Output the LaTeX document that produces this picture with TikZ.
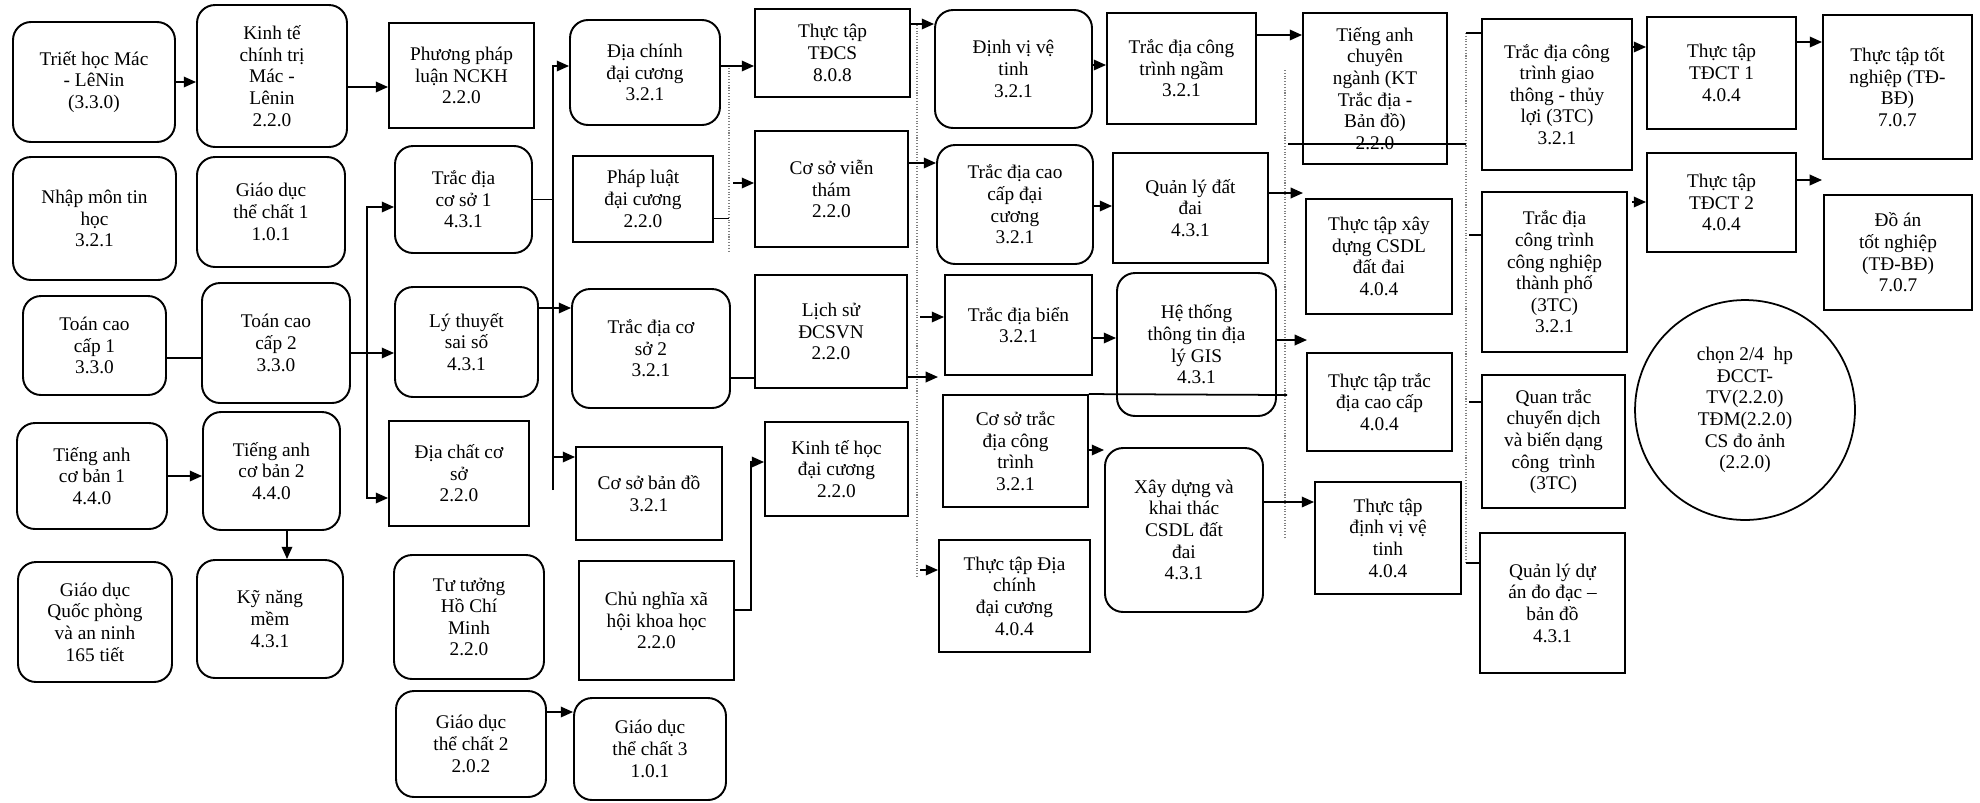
\documentclass[tikz,border=0pt]{standalone}
\usepackage{fontspec}
\setmainfont{Liberation Serif}
\usetikzlibrary{arrows.meta}
\begin{document}
\begin{tikzpicture}[x=0.02cm,y=-0.02cm,
 font=\fontsize{11}{12.3}\selectfont,
 rbox/.style={draw,line width=1.1pt,rounded corners=0.36cm,align=center,inner sep=1pt},
 sbox/.style={draw,line width=1.1pt,align=center,inner sep=1pt},
 arr/.style={line width=1pt,-{Triangle[length=7pt,width=6pt]}},
 link/.style={line width=1pt},
 guide/.style={gray,densely dotted,line width=0.6pt}]
 \useasboundingbox (0,0) rectangle (1980,802);
 % column 1 and 2
 \node[rbox,minimum width=3.24cm,minimum height=2.4cm] (triet) at (94,82) {Triết học Mác\\- LêNin\\(3.3.0)};
 \node[rbox,minimum width=3.0cm,minimum height=2.84cm] (ktct) at (272,76) {Kinh tế\\chính trị\\Mác -\\Lênin\\2.2.0};
 \node[rbox,minimum width=3.26cm,minimum height=2.46cm] (nhapmon) at (94.5,218.5) {Nhập môn tin\\học\\3.2.1};
 \node[rbox,minimum width=2.96cm,minimum height=2.2cm] (gdtc1) at (271,212) {Giáo dục\\thể chất 1\\1.0.1};
 \node[rbox,minimum width=2.86cm,minimum height=1.98cm] (tcc1) at (94.5,345.5) {Toán cao\\cấp 1\\3.3.0};
 \node[rbox,minimum width=2.96cm,minimum height=2.4cm] (tcc2) at (276,343) {Toán cao\\cấp 2\\3.3.0};
 \node[rbox,minimum width=3.0cm,minimum height=2.12cm] (ta1) at (92,476) {Tiếng anh\\cơ bản 1\\4.4.0};
 \node[rbox,minimum width=2.74cm,minimum height=2.36cm] (ta2) at (271.5,471) {Tiếng anh\\cơ bản 2\\4.4.0};
 \node[rbox,minimum width=3.08cm,minimum height=2.4cm] (gdqp) at (95,622) {Giáo dục\\Quốc phòng\\và an ninh\\165 tiết};
 \node[rbox,minimum width=2.92cm,minimum height=2.36cm] (kynang) at (270,619) {Kỹ năng\\mềm\\4.3.1};
 % column 3 and 4
 \node[sbox,minimum width=2.9cm,minimum height=2.1cm] (ppl) at (461.5,75.5) {Phương pháp\\luận NCKH\\2.2.0};
 \node[rbox,minimum width=2.74cm,minimum height=2.14cm] (tdcs1) at (463.5,199.5) {Trắc địa\\cơ sở 1\\4.3.1};
 \node[rbox,minimum width=2.86cm,minimum height=2.2cm] (ltss) at (466.5,342) {Lý thuyết\\sai số\\4.3.1};
 \node[sbox,minimum width=2.8cm,minimum height=2.1cm] (diachat) at (459,473.5) {Địa chất cơ\\sở\\2.2.0};
 \node[rbox,minimum width=3.0cm,minimum height=2.48cm] (tthcm) at (469,617) {Tư tưởng\\Hồ Chí\\Minh\\2.2.0};
 \node[rbox,minimum width=3.0cm,minimum height=2.12cm] (gdtc2) at (471,744) {Giáo dục\\thể chất 2\\2.0.2};
 \node[rbox,minimum width=3.0cm,minimum height=2.1cm] (dcdc) at (645,72.5) {Địa chính\\đại cương\\3.2.1};
 \node[sbox,minimum width=2.8cm,minimum height=1.72cm] (plaw) at (643,199) {Pháp luật\\đại cương\\2.2.0};
 \node[rbox,minimum width=3.16cm,minimum height=2.38cm] (tdcs2) at (651,348.5) {Trắc địa cơ\\sở 2\\3.2.1};
 \node[sbox,minimum width=2.92cm,minimum height=1.86cm] (csbd) at (649,493.5) {Cơ sở bản đồ\\3.2.1};
 \node[sbox,minimum width=3.1cm,minimum height=2.38cm] (cnxh) at (656.5,620.5) {Chủ nghĩa xã\\hội khoa học\\2.2.0};
 \node[rbox,minimum width=3.04cm,minimum height=2.04cm] (gdtc3) at (650,749) {Giáo dục\\thể chất 3\\1.0.1};
 % column 5 and 6
 \node[sbox,minimum width=3.1cm,minimum height=1.76cm] (ttdcs) at (832.5,53) {Thực tập\\TĐCS\\8.0.8};
 \node[sbox,minimum width=3.06cm,minimum height=2.32cm] (csvt) at (831.5,189) {Cơ sở viễn\\thám\\2.2.0};
 \node[sbox,minimum width=3.04cm,minimum height=2.26cm] (lsd) at (831,331.5) {Lịch sử\\ĐCSVN\\2.2.0};
 \node[sbox,minimum width=2.86cm,minimum height=1.88cm] (kthoc) at (836.5,469) {Kinh tế học\\đại cương\\2.2.0};
 \node[rbox,minimum width=3.14cm,minimum height=2.36cm] (dvvt) at (1013.5,69) {Định vị vệ\\tinh\\3.2.1};
 \node[rbox,minimum width=3.12cm,minimum height=2.38cm] (tdcc) at (1015,204.5) {Trắc địa cao\\cấp đại\\cương\\3.2.1};
 \node[sbox,minimum width=2.94cm,minimum height=2.0cm] (tdbien) at (1018.5,325) {Trắc địa biển\\3.2.1};
 \node[sbox,minimum width=2.9cm,minimum height=2.24cm] (cstdct) at (1015.5,451) {Cơ sở trắc\\địa công\\trình\\3.2.1};
 \node[sbox,minimum width=3.02cm,minimum height=2.24cm] (ttdc) at (1014.5,596) {Thực tập Địa\\chính\\đại cương\\4.0.4};
 % column 7 and 8
 \node[sbox,minimum width=2.98cm,minimum height=2.22cm] (tdctn) at (1181.5,68.5) {Trắc địa công\\trình ngầm\\3.2.1};
 \node[sbox,minimum width=3.1cm,minimum height=2.2cm] (qldd) at (1190.5,208) {Quản lý đất\\đai\\4.3.1};
 \node[rbox,minimum width=3.18cm,minimum height=2.86cm] (gis) at (1196.5,344.5) {Hệ thống\\thông tin địa\\lý GIS\\4.3.1};
 \node[rbox,minimum width=3.16cm,minimum height=3.28cm] (xdkt) at (1184,530) {Xây dựng và\\khai thác\\CSDL đất\\đai\\4.3.1};
 \node[sbox,minimum width=2.88cm,minimum height=3.02cm] (tacn) at (1375,88.5) {Tiếng anh\\chuyên\\ngành (KT\\Trắc địa -\\Bản đồ)\\2.2.0};
 \node[sbox,minimum width=2.92cm,minimum height=2.3cm] (ttxd) at (1379,256.5) {Thực tập xây\\dựng CSDL\\đất đai\\4.0.4};
 \node[sbox,minimum width=2.9cm,minimum height=1.96cm] (tttdcc) at (1379.5,402) {Thực tập trắc\\địa cao cấp\\4.0.4};
 \node[sbox,minimum width=2.92cm,minimum height=2.24cm] (ttdvvt) at (1388,538) {Thực tập\\định vị vệ\\tinh\\4.0.4};
 % column 9 to 11
 \node[sbox,minimum width=3.0cm,minimum height=3.02cm] (tdctgt) at (1557,94.5) {Trắc địa công\\trình giao\\thông - thủy\\lợi (3TC)\\3.2.1};
 \node[sbox,minimum width=2.9cm,minimum height=3.2cm] (tdctcn) at (1554.5,272) {Trắc địa\\công trình\\công nghiệp\\thành phố\\(3TC)\\3.2.1};
 \node[sbox,minimum width=2.86cm,minimum height=2.66cm] (qtcd) at (1553.5,441.5) {Quan trắc\\chuyển dịch\\và biến dạng\\công\ \ trình\\(3TC)};
 \node[sbox,minimum width=2.9cm,minimum height=2.8cm] (qlda) at (1552.5,603) {Quản lý dự\\án đo đạc –\\bản đồ\\4.3.1};
 \node[sbox,minimum width=2.98cm,minimum height=2.24cm] (tdct1) at (1721.5,73) {Thực tập\\TĐCT 1\\4.0.4};
 \node[sbox,minimum width=2.98cm,minimum height=1.98cm] (tdct2) at (1721.5,202.5) {Thực tập\\TĐCT 2\\4.0.4};
 \node[sbox,minimum width=2.98cm,minimum height=2.88cm] (tttn) at (1897.5,87) {Thực tập tốt\\nghiệp (TĐ-\\BĐ)\\7.0.7};
 \node[sbox,minimum width=2.96cm,minimum height=2.3cm] (doan) at (1898,252.5) {Đồ án\\tốt nghiệp\\(TĐ-BĐ)\\7.0.7};
 \node[circle,draw,line width=1pt,minimum size=4.4cm,align=center,inner sep=0pt] (chon) at (1745,410) {chọn 2/4\ \ hp\\ĐCCT-\\TV(2.2.0)\\TĐM(2.2.0)\\CS đo ảnh\\(2.2.0)};
 % junctions and loose ends
 \coordinate (b1) at (367,353);
 \coordinate (b2) at (553,490);
 \coordinate (b3) at (751,462);
 \coordinate (g1) at (733,183);
 \coordinate (g2) at (920,317);
 \coordinate (g3) at (920,570);
 \coordinate (g4) at (1632,202);
 \coordinate (e1) at (938,377);
 \coordinate (e2) at (1303,193);
 \coordinate (e3) at (1307,340);
 \coordinate (e4) at (1822,180);
 % guide lines
 \draw[guide] (729,65) -- (729,253);
 \draw[guide] (917,25) -- (917,577);
 \draw[guide] (1285,70) -- (1285,537);
 \draw[guide] (1466,33) -- (1466,563);
 % connectors
 \draw[arr] (triet.east) -- (triet.east -| ktct.west);
 \draw[arr] (ktct.east |- 0,87) -- (ppl.west |- 0,87);
 \draw[link] (tcc1.east |- 0,358) -- (tcc2.west |- 0,358);
 \draw[arr] (tcc2.east |- 0,353) -- (ltss.west |- 0,353);
 \draw[arr] (b1) |- (tdcs1.west |- 0,207);
 \draw[arr] (b1) |- (diachat.west |- 0,498);
 \draw[arr] (ta1.east) -- (ta1.east -| ta2.west);
 \draw[arr] (ta2.south -| 287,0) -- (kynang.north -| 287,0);
 \draw[link] (tdcs1.east) -- (tdcs1.east -| b2);
 \draw[arr] (b2) |- (dcdc.west |- 0,66);
 \draw[arr] (b2 |- 0,457) -- (csbd.west |- 0,457);
 \draw[arr] (ltss.east |- 0,308) -- (tdcs2.west |- 0,308);
 \draw[arr] (dcdc.east |- 0,66) -- (ttdcs.west |- 0,66);
 \draw[thin] (plaw.east |- 0,218) -- (729,218);
 \draw[arr] (g1) -- (csvt.west |- g1);
 \draw[link] (tdcs2.east |- 0,378) -- (lsd.west |- 0,378);
 \draw[arr] (cnxh.east |- 0,610) -| (b3) -- (kthoc.west |- b3);
 \draw[arr] (gdtc2.east |- 0,712) -- (gdtc3.west |- 0,712);
 \draw[arr] (ttdcs.east |- 0,24) -- (dvvt.west |- 0,24);
 \draw[arr] (csvt.east |- 0,163) -- (tdcc.west |- 0,163);
 \draw[arr] (g2) -- (tdbien.west |- g2);
 \draw[arr] (lsd.east |- e1) -- (e1);
 \draw[arr] (g3) -- (ttdc.west |- g3);
 \draw[arr] (dvvt.east |- 0,65) -- (tdctn.west |- 0,65);
 \draw[arr] (tdcc.east |- 0,206) -- (qldd.west |- 0,206);
 \draw[arr] (tdbien.east |- 0,338) -- (gis.west |- 0,338);
 \draw[arr] (cstdct.east |- 0,450) -- (xdkt.west |- 0,450);
 \draw[link] (cstdct.north east) -- (1287,395);
 \draw[arr] (tdctn.east |- 0,35) -- (tacn.west |- 0,35);
 \draw[link] (1288,144) -- (1466,144);
 \draw[arr] (qldd.east |- e2) -- (e2);
 \draw[arr] (gis.east |- e3) -- (e3);
 \draw[arr] (xdkt.east |- 0,502) -- (ttdvvt.west |- 0,502);
 \draw[link] (1466,33) -- (tdctgt.west |- 0,33);
 \draw[link] (1469,235) -- (tdctcn.west |- 0,235);
 \draw[link] (1469,402) -- (qtcd.west |- 0,402);
 \draw[link] (1466,563) -- (qlda.west |- 0,563);
 \draw[arr] (tdctgt.east |- 0,47) -- (tdct1.west |- 0,47);
 \draw[arr] (g4) -- (tdct2.west |- g4);
 \draw[arr] (tdct1.east |- 0,42) -- (tttn.west |- 0,42);
 \draw[arr] (tdct2.east |- e4) -- (e4);
\end{tikzpicture}
\end{document}
